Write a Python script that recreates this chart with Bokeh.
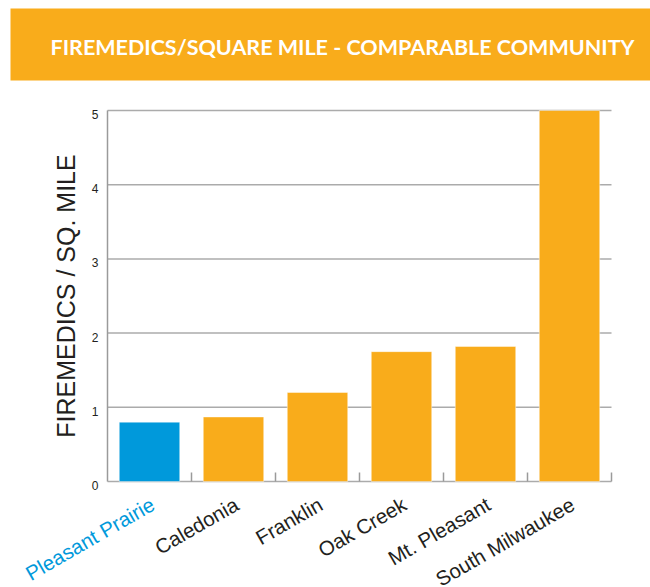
import math
from bokeh.plotting import figure
from bokeh.models import Range1d, ColumnDataSource
from bokeh.embed import file_html
from bokeh.resources import INLINE
from bokeh.core.properties import value

# ---------------- data ----------------
title_text = "FIREMEDICS/SQUARE MILE - COMPARABLE COMMUNITY"
y_axis_title = "FIREMEDICS / SQ. MILE"
communities = ["Pleasant Prairie", "Caledonia", "Franklin", "Oak Creek",
               "Mt. Pleasant", "South Milwaukee"]
firemedics_per_sq_mile = [0.80, 0.87, 1.20, 1.75, 1.82, 5.0]
y_ticks = [0, 1, 2, 3, 4, 5]

# ---------------- styles ----------------
ORANGE = "#F9AC1B"
BLUE = "#0099DB"
DARK = "#231F20"
GRID = "#ababab"
AXIS = "#9a9a9a"
bar_colors = [BLUE] + [ORANGE] * 5
label_colors = [BLUE] + [DARK] * 5
FONT = "Liberation Sans"

# ---------------- geometry (pixels) ----------------
W, H = 650, 587            # canvas
PLOT_LEFT = 107            # px from canvas left to the first category edge
CAT_PX = 84                # px per category
ZERO_PX = 481              # px from canvas top to value 0
UNIT_PX = 74.2             # px per 1 unit of value
BANNER_LEFT, BANNER_TOP, BANNER_BOTTOM = 10, 8, 80

def xd(px):
    return (px - PLOT_LEFT) / CAT_PX

def yd(py):
    return (ZERO_PX - py) / UNIT_PX

n = len(communities)
x_centers = [i + 0.5 for i in range(n)]
x_bounds = [i + 1 for i in range(n)]
y_top = max(y_ticks)

p = figure(width=W, height=H, x_range=Range1d(xd(0), xd(W)), y_range=Range1d(yd(H), yd(0)),
           toolbar_location=None, output_backend="svg",
           min_border=0, min_border_left=0, min_border_right=0,
           min_border_top=0, min_border_bottom=0)
p.axis.visible = False
p.grid.visible = False
p.outline_line_color = None
p.background_fill_color = "white"
p.border_fill_color = "white"

# banner
p.quad(left=[xd(BANNER_LEFT)], right=[xd(W)], top=[yd(BANNER_TOP)], bottom=[yd(BANNER_BOTTOM)],
       fill_color=ORANGE, line_color=None)
p.text(x=[xd(342)], y=[yd(46)], text=[title_text], text_align="center",
       text_baseline="middle", text_color="white", text_font=value("Lato"),
       text_font_style="bold", text_font_size="21.5px")

# horizontal grid lines at ticks (the 0 line acts as the x axis)
p.segment(x0=[0] * len(y_ticks), x1=[n] * len(y_ticks), y0=y_ticks, y1=y_ticks,
          line_color=GRID, line_width=1.5)
# y axis line
p.segment(x0=[0], x1=[0], y0=[0], y1=[y_top], line_color=AXIS, line_width=1.5)

# bars
src = ColumnDataSource(dict(x=x_centers, cat=communities, val=firemedics_per_sq_mile,
                            color=bar_colors, lcolor=label_colors))
p.vbar(x="x", top="val", width=0.72, source=src, fill_color="color",
       line_color="white", line_alpha=0.45, line_width=1)

# category boundary ticks (pointing up from the baseline)
p.segment(x0=x_bounds, x1=x_bounds, y0=[0] * n, y1=[9 / UNIT_PX] * n,
          line_color=AXIS, line_width=1.5)

# y tick labels
p.text(x=[0] * len(y_ticks), y=y_ticks, text=[str(t) for t in y_ticks],
       x_offset=-9, y_offset=4, text_align="right", text_baseline="middle",
       text_font=value(FONT), text_font_size="12px", text_color=DARK)

# y axis title
p.text(x=[xd(65)], y=[(y_ticks[0] + y_top) / 2], text=[y_axis_title], angle=math.pi / 2,
       text_align="center", text_baseline="middle", text_font=value(FONT),
       text_font_size="25px", text_color=DARK)

# rotated category labels
p.text(x="x", y=0, text="cat", source=src, x_offset=3, y_offset=21, angle=math.radians(30),
       text_align="right", text_baseline="middle", text_font=value(FONT),
       text_font_size="20.5px", text_color="lcolor")

open("out.html", "w").write(file_html(p, INLINE))
